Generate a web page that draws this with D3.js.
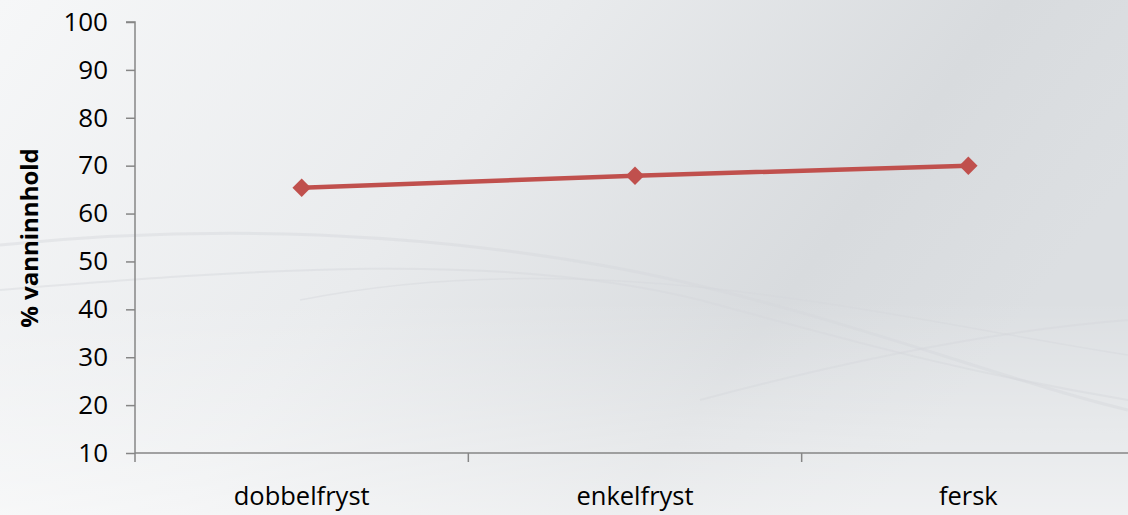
<!DOCTYPE html>
<html><head><meta charset="utf-8">
<script src="https://cdn.jsdelivr.net/npm/d3@7"></script>
<style>html,body{margin:0;padding:0;overflow:hidden;background:#fff}</style>
</head><body><svg id="c" width="1128" height="515"></svg>
<script>
const categories = ["dobbelfryst", "enkelfryst", "fersk"];
const values = [65.4, 67.9, 70.0];
const yTicks = [10, 20, 30, 40, 50, 60, 70, 80, 90, 100];
const yTitle = "% vanninnhold";

const W = 1128, H = 515;
const svg = d3.select("#c");
const defs = svg.append("defs");
const bg = defs.append("linearGradient").attr("id","bg").attr("x1","0").attr("y1","0").attr("x2","1").attr("y2","0.35");
bg.append("stop").attr("offset","0").attr("stop-color","#f6f7f8");
bg.append("stop").attr("offset","0.45").attr("stop-color","#e9ebed");
bg.append("stop").attr("offset","0.8").attr("stop-color","#d8dbde");
bg.append("stop").attr("offset","1").attr("stop-color","#dcdfe2");
svg.append("rect").attr("width",W).attr("height",H).attr("fill","url(#bg)");
const bg2 = defs.append("linearGradient").attr("id","bg2").attr("x1","0").attr("y1","0").attr("x2","0").attr("y2","1");
bg2.append("stop").attr("offset","0").attr("stop-color","#ffffff").attr("stop-opacity","0");
bg2.append("stop").attr("offset","1").attr("stop-color","#ffffff").attr("stop-opacity","0.55");
svg.append("rect").attr("y",300).attr("width",W).attr("height",H-300).attr("fill","url(#bg2)");
const sw = svg.append("g").attr("fill","none").attr("stroke","#d5d8db").attr("stroke-opacity",0.45);
sw.append("path").attr("d","M0,245 C200,225 400,230 600,265 C800,300 1000,380 1128,410").attr("stroke-width",3);
sw.append("path").attr("d","M0,290 C250,270 500,250 700,300 C850,340 950,370 1128,400").attr("stroke-width",2);
sw.append("path").attr("d","M700,400 C850,360 1000,330 1128,320").attr("stroke-width",2);
sw.append("path").attr("d","M300,300 C600,240 900,320 1128,355").attr("stroke-width",1.5);

const m = {left:135, top:22, bottom:453};
const x = d3.scaleBand().domain(categories).range([135, 1135]);
const y = d3.scaleLinear().domain([10,100]).range([m.bottom, m.top]);

const axisColor = "#868686";
const font = "'Open Sans', 'Noto Sans', sans-serif";

const ya = svg.append("g").attr("transform",`translate(${m.left},0)`)
  .call(d3.axisLeft(y).tickValues(yTicks).tickSize(9).tickPadding(18).tickFormat(d3.format("d")));
ya.select(".domain").attr("stroke",axisColor).attr("stroke-width",1.5).attr("d",`M-9,${y(100)}H0V${y(10)}`);
ya.selectAll(".tick line").attr("stroke",axisColor).attr("stroke-width",1.5);
ya.selectAll(".tick text").attr("fill","#000").style("font-family",font).style("font-size","26px");

const xa = svg.append("g").attr("transform",`translate(0,${m.bottom})`)
  .call(d3.axisBottom(x).tickSize(0).tickPadding(34));
xa.select(".domain").attr("stroke",axisColor).attr("stroke-width",1.5).attr("d",`M135,0H1135`);
xa.selectAll(".tick text").attr("fill","#000").style("font-family",font).style("font-size","25.5px");
const bounds = categories.map(c => x(c)).concat([x.range()[1]]);
svg.append("g").selectAll("line").data(bounds).join("line")
  .attr("x1",d=>d).attr("x2",d=>d).attr("y1",m.bottom).attr("y2",m.bottom+9)
  .attr("stroke",axisColor).attr("stroke-width",1.5);

svg.append("text").attr("transform",`translate(38,238) rotate(-90)`)
  .attr("text-anchor","middle").style("font-family",font).style("font-weight","bold")
  .style("font-size","24px").attr("fill","#000").text(yTitle);

const cx = c => x(c) + x.bandwidth()/2;
const pts = categories.map((c,i)=>[cx(c), y(values[i])]);
svg.append("path").attr("d", d3.line()(pts)).attr("fill","none")
  .attr("stroke","#c0504d").attr("stroke-width",4.5).attr("stroke-linejoin","round");
svg.append("g").selectAll("path").data(pts).join("path")
  .attr("d", d3.symbol(d3.symbolSquare, 170)())
  .attr("transform",d=>`translate(${d[0]},${d[1]}) rotate(45)`)
  .attr("fill","#c0504d");
</script></body></html>
